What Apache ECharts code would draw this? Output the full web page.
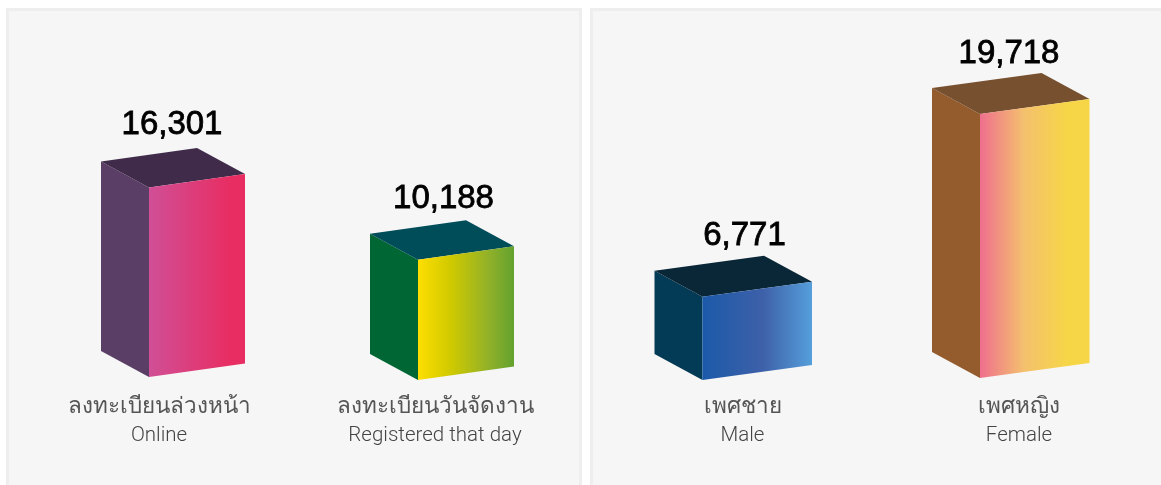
<!DOCTYPE html>
<html>
<head>
<meta charset="utf-8">
<title>Registrations</title>
<script src="https://cdn.jsdelivr.net/npm/echarts@6/dist/echarts.min.js"></script>
<style>
    html, body { margin: 0; padding: 0; background: #fff; }
    #chart { width: 1161px; height: 485px; }
</style>
</head>
<body>
<div id="chart"></div>
<script>
const regThai = ['ลงทะเบียนล่วงหน้า', 'ลงทะเบียนวันจัดงาน'];
const regEnglish = ['Online', 'Registered that day'];
const regValues = [16301, 10188];

const genderThai = ['เพศชาย', 'เพศหญิง'];
const genderEnglish = ['Male', 'Female'];
const genderValues = [6771, 19718];

// colours for each box: side, top, front gradient
const regColors = [
    { side: '#5a3e66', top: '#402c4a', front: [[0, '#d04f96'], [0.85, '#e82d62'], [1, '#e82d62']] },
    { side: '#006633', top: '#004d5a', front: [[0, '#fede00'], [0.35, '#cfc900'], [0.75, '#8fb02a'], [1, '#62a22e']] }
];
const genderColors = [
    { side: '#033a55', top: '#0a2738', front: [[0, '#1b5aa9'], [0.55, '#3e60a9'], [1, '#559fdb']] },
    { side: '#945b2c', top: '#77502f', front: [[0, '#ef6f8e'], [0.4, '#f4c06e'], [0.8, '#f6d646'], [1, '#f6d646']] }
];

// text offsets from the front edge, baseline nudge
const regLayout = [
    { labelDx: 10, valueDx: 23, valueDy: -23, baseDy: 0 },
    { labelDx: 17, valueDx: 25.5, valueDy: -21, baseDy: 3 }
];
const genderLayout = [
    { labelDx: 40, valueDx: 42, valueDy: -20, baseDy: 0 },
    { labelDx: 39, valueDx: 29, valueDy: -19.2, baseDy: -2 }
];

const VALUE_FONT = '33px "Liberation Sans", sans-serif';
const THAI_FONT = '300 22.5px Roboto, "Noto Sans", sans-serif';
const ENGLISH_FONT = '300 20.5px Roboto, "Noto Sans", sans-serif';
const THAI_Y = 407.5;
const ENGLISH_Y = 435.5;

function boxRenderer(thai, english, colors, layout, axisMin, frontWidth, rise) {
    return function (params, api) {
        const i = api.value(0);
        const value = api.value(1);
        const l = layout[i];
        const top = api.coord([i, value]);
        const bottom = api.coord([i, axisMin]);
        const x = top[0];
        const yTop = top[1] + l.baseDy;
        const yBottom = bottom[1] + l.baseDy;
        const depthX = 48;
        const depthY = 26;

        const left = x - depthX;
        const right = x + frontWidth;
        const backX = left + frontWidth;

        return {
            type: 'group',
            children: [
                {
                    type: 'polygon',
                    shape: { points: [[left, yTop - depthY], [x, yTop], [x, yBottom], [left, yBottom - depthY]] },
                    style: { fill: colors[i].side }
                },
                {
                    type: 'polygon',
                    shape: { points: [[left, yTop - depthY], [backX, yTop - depthY - rise], [right, yTop - rise], [x, yTop]] },
                    style: { fill: colors[i].top }
                },
                {
                    type: 'polygon',
                    shape: { points: [[x, yTop], [right, yTop - rise], [right, yBottom - rise], [x, yBottom]] },
                    style: {
                        fill: {
                            type: 'linear', x: 0, y: 0, x2: 1, y2: 0,
                            colorStops: colors[i].front.map(function (s) { return { offset: s[0], color: s[1] }; })
                        }
                    }
                },
                {
                    type: 'text',
                    style: {
                        x: x + l.valueDx, y: yTop - depthY - rise + l.valueDy,
                        text: value.toLocaleString('en-US'),
                        align: 'center', verticalAlign: 'middle',
                        font: VALUE_FONT, fill: '#000', stroke: '#000', lineWidth: 0.8
                    }
                },
                {
                    type: 'text',
                    style: {
                        x: x + l.labelDx, y: THAI_Y,
                        text: thai[i],
                        align: 'center', verticalAlign: 'middle',
                        font: THAI_FONT, fill: '#555'
                    }
                },
                {
                    type: 'text',
                    style: {
                        x: x + l.labelDx, y: ENGLISH_Y,
                        text: english[i],
                        align: 'center', verticalAlign: 'middle',
                        font: ENGLISH_FONT, fill: '#444'
                    }
                }
            ]
        };
    };
}

function panel(x, width) {
    return {
        type: 'rect',
        silent: true,
        z: -1,
        shape: { x: x, y: 9.5, width: width, height: 500 },
        style: { fill: '#f6f6f6', stroke: '#eeeeee', lineWidth: 3 }
    };
}

const myChart = echarts.init(document.getElementById('chart'));

myChart.setOption({
    animation: false,
    backgroundColor: '#fff',
    graphic: [panel(7.5, 573), panel(591.5, 600)],
    grid: [
        { left: 14.5, width: 538, top: 145.5, height: 231.5 },
        { left: 563.75, width: 555, top: 112, height: 268 }
    ],
    xAxis: [
        { type: 'category', gridIndex: 0, data: regEnglish, show: false },
        { type: 'category', gridIndex: 1, data: genderEnglish, show: false }
    ],
    yAxis: [
        { type: 'value', gridIndex: 0, min: -400, max: 20000, show: false },
        { type: 'value', gridIndex: 1, min: 800, max: 20000, show: false }
    ],
    series: [
        {
            type: 'custom',
            xAxisIndex: 0,
            yAxisIndex: 0,
            renderItem: boxRenderer(regThai, regEnglish, regColors, regLayout, -400, 96, 13.5),
            data: regValues.map(function (v, i) { return [i, v]; })
        },
        {
            type: 'custom',
            xAxisIndex: 1,
            yAxisIndex: 1,
            renderItem: boxRenderer(genderThai, genderEnglish, genderColors, genderLayout, 800, 109.5, 15),
            data: genderValues.map(function (v, i) { return [i, v]; })
        }
    ]
});
</script>
</body>
</html>
